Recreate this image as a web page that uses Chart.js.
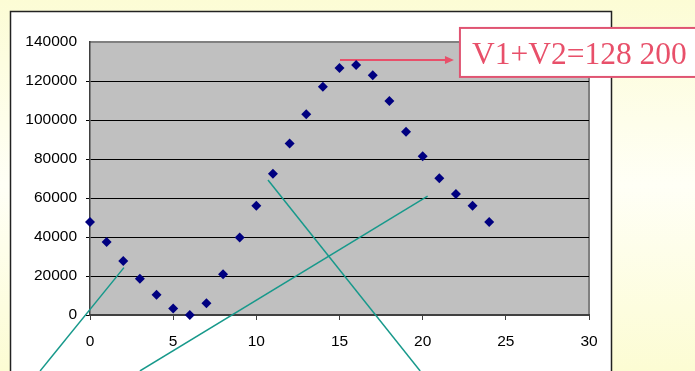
<!DOCTYPE html>
<html>
<head>
<meta charset="utf-8">
<script src="https://cdn.jsdelivr.net/npm/chart.js@4.4.1/dist/chart.umd.min.js"></script>
<style>
  html, body { margin: 0; padding: 0; background: #fdfdd8; }
  #wrap { width: 695px; height: 371px; position: relative; }
</style>
</head>
<body>
<div id="wrap"><canvas id="chart" width="695" height="371"></canvas></div>
<script>
const xValues = [0, 1, 2, 3, 4, 5, 6, 7, 8, 9, 10, 11, 12, 13, 14, 15, 16, 17, 18, 19, 20, 21, 22, 23, 24];
const yValues = [47700, 37400, 27700, 18600, 10400, 3300, 0, 6000, 20900, 39800, 56000, 72500, 88000, 102900, 117100, 126700, 128200, 122900, 109700, 94000, 81400, 70100, 62000, 56000, 47700];
const xTicks = [0, 5, 10, 15, 20, 25, 30];
const yTicks = [0, 20000, 40000, 60000, 80000, 100000, 120000, 140000];
const labelText = 'V1+V2=128 200';

// pointer lines drawn over the chart, in data units
const pointerA = [{ x: 2.04, y: 24300 }, { x: -3.0, y: -28700 }];
const pointerB = [{ x: 20.3, y: 61000 }, { x: 3.0, y: -28700 }];
const pointerC = [{ x: 10.7, y: 69200 }, { x: 19.85, y: -28700 }];
const arrowLine = [{ x: 15.03, y: 130800 }, { x: 21.76, y: 130800 }];

const points = xValues.map((x, i) => ({ x: x, y: yValues[i] }));

const backdrop = {
    id: 'backdrop',
    beforeDraw(chart) {
        const ctx = chart.ctx;
        const a = chart.chartArea;
        ctx.save();
        const g = ctx.createLinearGradient(0, 0, 0, chart.height);
        g.addColorStop(0, '#fcfcd5');
        g.addColorStop(0.5, '#fffff6');
        g.addColorStop(1, '#fcfcd3');
        ctx.fillStyle = g;
        ctx.fillRect(0, 0, chart.width, chart.height);
        // white chart box
        ctx.fillStyle = '#ffffff';
        ctx.fillRect(10, 11, 602, chart.height);
        ctx.strokeStyle = '#222222';
        ctx.lineWidth = 1.5;
        ctx.strokeRect(10.5, 11.5, 601, chart.height + 10);
        // plot area
        ctx.fillStyle = '#c0c0c0';
        ctx.fillRect(a.left, a.top, a.right - a.left, a.bottom - a.top);
        ctx.strokeStyle = '#808080';
        ctx.lineWidth = 2;
        ctx.beginPath();
        ctx.moveTo(a.left, a.top);
        ctx.lineTo(a.right, a.top);
        ctx.lineTo(a.right, a.bottom);
        ctx.stroke();
        ctx.restore();
    },
    afterDraw(chart) {
        const ctx = chart.ctx;
        const xs = chart.scales.x, ys = chart.scales.y;
        const ex = xs.getPixelForValue(arrowLine[1].x);
        const ey = ys.getPixelForValue(arrowLine[1].y);
        ctx.save();
        // arrow head
        ctx.fillStyle = '#e8506a';
        ctx.beginPath();
        ctx.moveTo(ex + 2, ey);
        ctx.lineTo(ex - 7, ey - 4);
        ctx.lineTo(ex - 7, ey + 4);
        ctx.closePath();
        ctx.fill();
        // label box
        const bx = ex + 8;
        ctx.fillStyle = '#ffffff';
        ctx.fillRect(bx, ey - 32, chart.width - bx + 5, 49);
        ctx.strokeStyle = '#e05472';
        ctx.lineWidth = 2;
        ctx.strokeRect(bx, ey - 32, chart.width - bx + 5, 49);
        ctx.fillStyle = '#e8506a';
        ctx.font = '31.5px "Liberation Serif", "Times New Roman", serif';
        ctx.textBaseline = 'alphabetic';
        ctx.fillText(labelText, bx + 12, ey + 4);
        ctx.restore();
    }
};

const lineStyle = (data, color, width) => ({
    type: 'line',
    data: data,
    borderColor: color,
    borderWidth: width,
    pointRadius: 0,
    showLine: true,
    clip: false,
    fill: false,
    tension: 0
});

new Chart(document.getElementById('chart').getContext('2d'), {
    type: 'scatter',
    data: {
        datasets: [
            {
                label: 'V',
                data: points,
                pointStyle: 'rectRot',
                pointRadius: 5,
                pointHoverRadius: 5,
                backgroundColor: '#000080',
                borderColor: '#000080',
                borderWidth: 0,
                clip: false
            },
            lineStyle(pointerA, '#17998b', 1.5),
            lineStyle(pointerB, '#17998b', 1.5),
            lineStyle(pointerC, '#17998b', 1.5),
            lineStyle(arrowLine, '#e8506a', 2)
        ]
    },
    options: {
        responsive: false,
        animation: false,
        events: [],
        layout: { padding: { left: 0, right: 106, top: 42, bottom: 0 } },
        plugins: {
            legend: { display: false },
            tooltip: { enabled: false }
        },
        scales: {
            x: {
                type: 'linear',
                min: 0,
                max: 30,
                afterFit: s => { s.height = 56; },
                afterBuildTicks: s => { s.ticks = xTicks.map(v => ({ value: v })); },
                border: { color: '#404040', width: 2 },
                grid: { drawOnChartArea: false, drawTicks: true, tickLength: 5, color: '#404040' },
                ticks: {
                    padding: 12,
                    color: '#000',
                    font: { family: '"Liberation Sans", Arial, sans-serif', size: 15.5 },
                    callback: v => String(v)
                }
            },
            y: {
                min: 0,
                max: 140000,
                afterFit: s => { s.width = 90; },
                afterBuildTicks: s => { s.ticks = yTicks.map(v => ({ value: v })); },
                border: { color: '#404040', width: 1.5 },
                grid: {
                    color: c => (c.tick && c.tick.value === 140000 ? 'rgba(0,0,0,0)' : '#000'),
                    lineWidth: 1,
                    tickLength: 4
                },
                ticks: {
                    padding: 9,
                    color: '#000',
                    font: { family: '"Liberation Sans", Arial, sans-serif', size: 15.5 },
                    callback: v => String(v)
                }
            }
        }
    },
    plugins: [backdrop]
});
</script>
</body>
</html>
